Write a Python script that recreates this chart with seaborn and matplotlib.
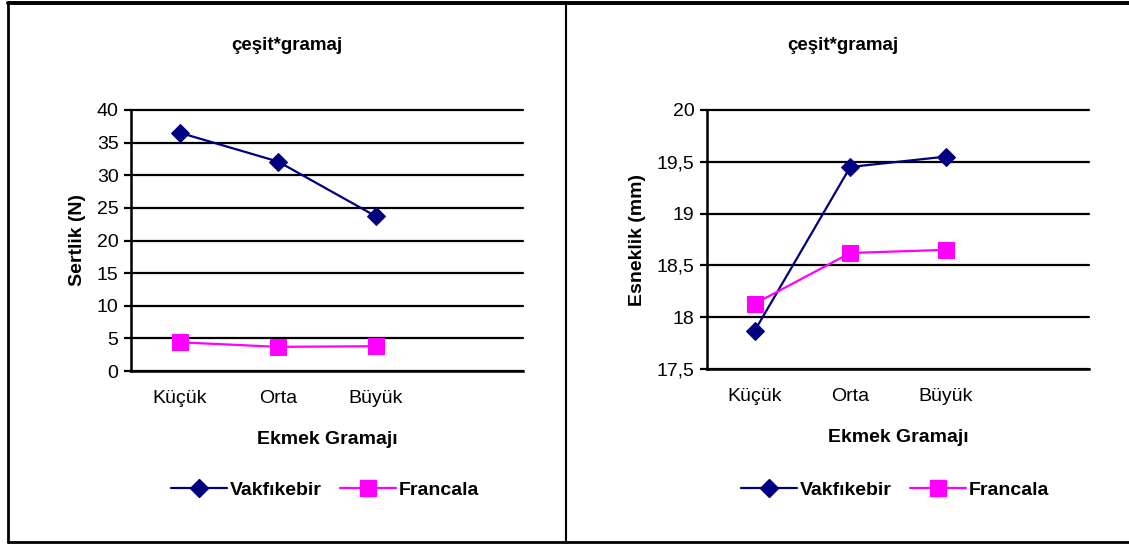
import numpy as np
import pandas as pd
import matplotlib
matplotlib.use("Agg")
import matplotlib.pyplot as plt
from matplotlib.lines import Line2D
from matplotlib.ticker import FuncFormatter, FixedLocator
import seaborn as sns

# ---- data ----
categories = ["Küçük", "Orta", "Büyük", ""]
series_names = ["Vakfıkebir", "Francala"]
sertlik_vakfikebir = [36.5, 32.1, 23.7]
sertlik_francala = [4.4, 3.7, 3.8]
esneklik_vakfikebir = [17.87, 19.45, 19.55]
esneklik_francala = [18.13, 18.62, 18.65]
title_text = "çeşit*gramaj"
xlabel_text = "Ekmek Gramajı"
ylabel_left = "Sertlik (N)"
ylabel_right = "Esneklik (mm)"
yticks_left = [0, 5, 10, 15, 20, 25, 30, 35, 40]
yticks_right = [17.5, 18, 18.5, 19, 19.5, 20]

colors = {"Vakfıkebir": "#000080", "Francala": "#FF00FF"}
markers = {"Vakfıkebir": "D", "Francala": "s"}
msizes = {"Vakfıkebir": 9, "Francala": 11}

sns.set_theme(style="white")
plt.rcParams["font.family"] = ["Liberation Sans", "DejaVu Sans"]
plt.rcParams["text.color"] = "black"
plt.rcParams["axes.labelcolor"] = "black"
plt.rcParams["xtick.color"] = "black"
plt.rcParams["ytick.color"] = "black"

W, H = 1129, 544
fig = plt.figure(figsize=(W / 100, H / 100), dpi=100)
FS = 14


def fx(px):
    return px / W


def fy(py):
    return 1 - py / H


def panel(rect, vak, fra, yticks, ylabel, legend_cx, title_cx):
    ax = fig.add_axes(rect)
    npts = len(vak)
    x = np.arange(npts)
    df = pd.DataFrame({
        "x": np.concatenate([x, x]),
        "val": list(vak) + list(fra),
        "series": [series_names[0]] * npts + [series_names[1]] * npts,
    })
    for name in series_names:
        sub = df[df["series"] == name]
        sns.lineplot(data=sub, x="x", y="val", color=colors[name],
                     marker=markers[name], markersize=msizes[name],
                     markeredgecolor=colors[name], linewidth=1.6,
                     ax=ax, legend=False, label=name)
    ax.set_xlim(-0.5, len(categories) - 0.5)
    ax.set_ylim(yticks[0], yticks[-1])
    ax.set_yticks(yticks)
    ax.yaxis.set_major_formatter(FuncFormatter(lambda v, p: f"{v:g}".replace(".", ",")))
    ax.yaxis.grid(True, color="black", linewidth=1.6)
    for gl in ax.get_ygridlines():
        gl.set_clip_on(False)
    ax.xaxis.grid(False)
    # category boundaries as major ticks, labels on minor ticks
    ax.xaxis.set_major_locator(FixedLocator(np.arange(len(categories) + 1) - 0.5))
    ax.xaxis.set_major_formatter(FuncFormatter(lambda v, p: ""))
    ax.xaxis.set_minor_locator(FixedLocator(np.arange(len(categories))))
    ax.set_xticklabels(categories, minor=True)
    ax.tick_params(axis="x", which="major", direction="out", length=6, width=1.6, color="black")
    ax.tick_params(axis="x", which="minor", length=0, pad=14, labelsize=FS)
    ax.tick_params(axis="y", which="major", direction="out", length=5, width=1.6,
                   color="black", labelsize=FS, pad=4, left=True)
    for s in ["top", "right"]:
        ax.spines[s].set_visible(False)
    for s in ["left", "bottom"]:
        ax.spines[s].set_visible(True)
        ax.spines[s].set_color("black")
        ax.spines[s].set_linewidth(1.8)
    ax.set_xlabel(xlabel_text, fontsize=FS, fontweight="bold", labelpad=17)
    ax.set_ylabel(ylabel, fontsize=FS, fontweight="bold", labelpad=8)
    ax.set_facecolor("white")
    fig.text(title_cx, fy(45), title_text, ha="center", va="center",
             fontsize=13.5, fontweight="bold")
    handles = [Line2D([0], [0], color=colors[n], marker=markers[n],
                      markersize=msizes[n], linewidth=1.6) for n in series_names]
    fig.legend(handles, series_names, loc="center",
               bbox_to_anchor=(legend_cx, fy(490)), ncol=2, frameon=False,
               prop={"weight": "bold", "size": FS}, handlelength=2.9,
               handletextpad=0.15, columnspacing=0.9)
    return ax


panel([fx(131), fy(371), fx(523) - fx(131), fy(110) - fy(371)],
      sertlik_vakfikebir, sertlik_francala, yticks_left, ylabel_left,
      fx(325), fx(287))
panel([fx(707), fy(369), fx(1089) - fx(707), fy(110) - fy(369)],
      esneklik_vakfikebir, esneklik_francala, yticks_right, ylabel_right,
      fx(895), fx(843))

# outer frame lines
lw = 2.0
fig.add_artist(Line2D([fx(8), fx(8)], [fy(3), fy(542)], color="black", lw=lw))
fig.add_artist(Line2D([fx(8), 1.0], [fy(3), fy(3)], color="black", lw=2.8))
fig.add_artist(Line2D([fx(8), 1.0], [fy(542), fy(542)], color="black", lw=lw))
fig.add_artist(Line2D([fx(566), fx(566)], [fy(3), fy(542)], color="black", lw=1.5))

fig.savefig("out.png", dpi=100, facecolor="white")
